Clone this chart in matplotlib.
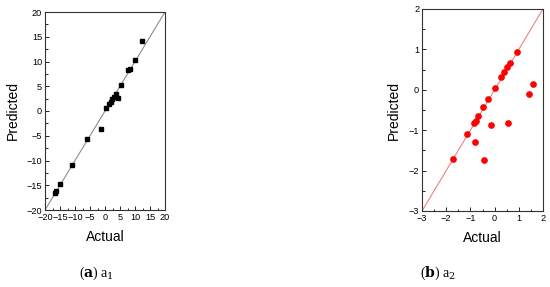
import matplotlib
matplotlib.use("Agg")
import matplotlib.pyplot as plt
from matplotlib.ticker import MultipleLocator

plt.rcParams['font.family'] = ['Liberation Sans', 'DejaVu Sans']

# Panel a1 data
a1_actual = [-16.6, -16.3, -15.0, -11.0, -5.9, -1.4, 0.4, 1.3, 2.0, 2.4, 2.9, 3.6, 4.4, 5.2, 7.8, 8.3, 10.0, 12.4]
a1_pred   = [-16.5, -16.2, -14.8, -10.9, -5.7, -3.6, 0.6, 1.4, 1.9, 2.5, 2.9, 3.5, 2.6, 5.3, 8.2, 8.4, 10.3, 14.1]

# Panel a2 data
a2_actual = [-1.73, -1.12, -0.86, -0.78, -0.79, -0.67, -0.47, -0.42, -0.27, -0.15, 0.01, 0.27, 0.40, 0.53, 0.56, 0.63, 0.92, 1.42, 1.59]
a2_pred   = [-1.71, -1.10, -0.83, -0.77, -1.29, -0.65, -0.43, -1.75, -0.24, -0.87, 0.04, 0.31, 0.43, 0.56, -0.82, 0.66, 0.94, -0.10, 0.15]

a1_lim = [-20, 20]
a2_lim = [-3, 2]
captions = [("a", "a", "1"), ("b", "a", "2")]

W, H = 550, 287
fig = plt.figure(figsize=(W/100, H/100), dpi=100)

def style(ax, major, minor, ylabelpad):
    ax.xaxis.set_major_locator(MultipleLocator(major))
    ax.yaxis.set_major_locator(MultipleLocator(major))
    ax.xaxis.set_minor_locator(MultipleLocator(minor))
    ax.yaxis.set_minor_locator(MultipleLocator(minor))
    ax.tick_params(which='both', direction='in', top=False, right=False, labelsize=6.6, pad=2)
    ax.tick_params(which='major', length=3, width=0.6)
    ax.tick_params(which='minor', length=1.8, width=0.6)
    for s in ax.spines.values():
        s.set_linewidth(0.8)
        s.set_color('#333333')
    ax.set_xlabel('Actual', fontsize=10, labelpad=6)
    ax.set_ylabel('Predicted', fontsize=10, labelpad=ylabelpad)

ax1 = fig.add_axes([45/W, 1-210/H, 120/W, 198/H])
ax1.plot(a1_lim, a1_lim, color='#8c8c8c', lw=0.8, zorder=1)
ax1.plot(a1_actual, a1_pred, 's', color='black', ms=3.3, zorder=2)
ax1.set_xlim(a1_lim); ax1.set_ylim(a1_lim)
style(ax1, 5, 2.5, 5)

ax2 = fig.add_axes([422/W, 1-211/H, 121/W, 202/H])
ax2.plot(a2_lim, a2_lim, color='#f08080', lw=0.8, zorder=1)
ax2.plot(a2_actual, a2_pred, 'o', color='red', ms=3.8, mec='red', zorder=2)
ax2.set_xlim(a2_lim); ax2.set_ylim(a2_lim)
style(ax2, 1, 0.5, 6)

for (letter, base, sub), xc in zip(captions, [96, 438]):
    fig.text(xc/W, 1-273/H, r'($\mathbf{%s}$) %s$_{%s}$' % (letter, base, sub),
             ha='center', va='center', fontsize=10, family=['Liberation Serif', 'DejaVu Serif'],
             math_fontfamily='dejavuserif')

fig.savefig('out.png', dpi=100)
